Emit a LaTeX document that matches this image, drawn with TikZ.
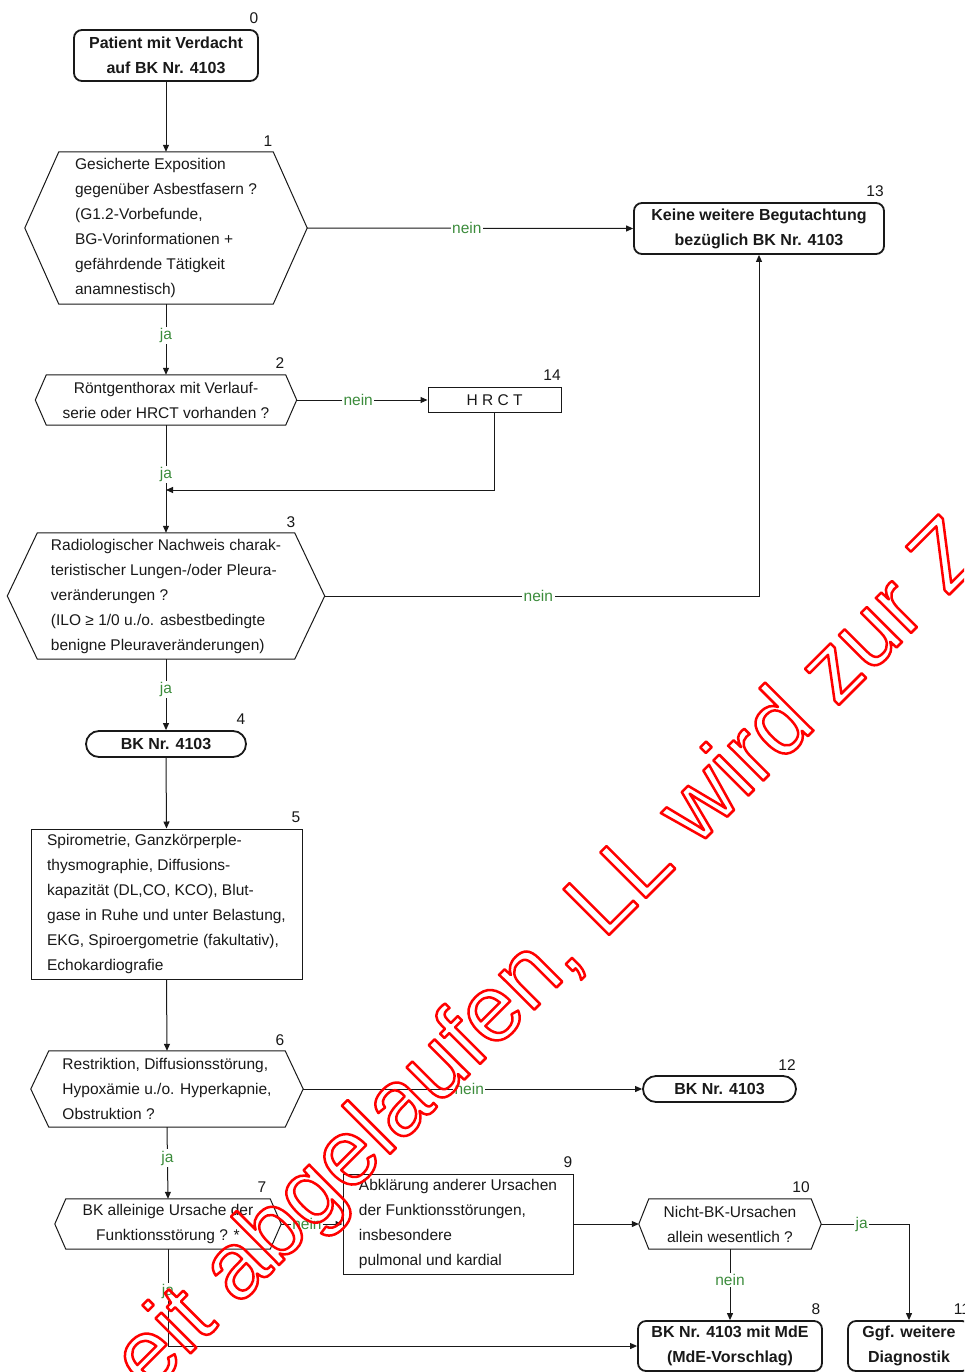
\documentclass[tikz,border=0pt]{standalone}
\usepackage{fontspec}
\setmainfont{Liberation Sans}
\newfontfamily\wmfont{Liberation Sans}
\usetikzlibrary{arrows.meta,calc}
\definecolor{lblgreen}{RGB}{60,140,60}
\definecolor{ink}{RGB}{25,25,25}
\newcommand\hexpath[2]{\draw[hexline] (#1.west) -- ([xshift=#2]#1.north west) -- ([xshift=-#2]#1.north east) -- (#1.east) -- ([xshift=-#2]#1.south east) -- ([xshift=#2]#1.south west) -- cycle;}
\newcommand\wmon{\special{pdf:literal direct 1 Tr 2.5 w 1 j}}
\newcommand\wmoff{\special{pdf:literal direct 0 Tr}}
\begin{document}
\begin{tikzpicture}[x=1pt,y=-1pt,
  txt/.style={font=\fontsize{15.5}{25}\selectfont, text=ink},
  term/.style={draw=ink, line width=1.8pt, rounded corners=8pt, inner sep=0pt, align=center, font=\fontsize{16}{25}\selectfont\bfseries, text=ink},
  procbox/.style={draw=ink, line width=1pt, inner sep=0pt, align=left, txt},
  hexnode/.style={inner sep=0pt, txt},
  hexline/.style={draw=ink, line width=1pt},
  conn/.style={draw=ink, line width=1pt, -{Triangle[length=7pt,width=6pt]}},
  lbl/.style={fill=white, text=lblgreen, inner sep=1.5pt, font=\fontsize{15.5}{18}\selectfont},
  num/.style={font=\fontsize{15.5}{18}\selectfont, text=ink, inner sep=0pt}
]
\useasboundingbox (0,0) rectangle (964,1372);
\fill[white] (0,0) rectangle (964,1372);
\clip (0,0) rectangle (964,1372);

% nodes
\node[term, minimum width=184pt, minimum height=51pt] (n0) at (166,55.5) {Patient mit Verdacht\\auf BK Nr. 4103};
\node[num] (l0) at (254,18) {0};

\node[hexnode, align=left, minimum width=282pt, minimum height=152pt] (n1) at (166,228) {Gesicherte Exposition\\gegenüber Asbestfasern ?\\(G1.2-Vorbefunde,\\BG-Vorinformationen +\\gefährdende Tätigkeit\\anamnestisch)};
\hexpath{n1}{34pt}
\node[num] (l1) at (268,141) {1};

\node[term, minimum width=250pt, minimum height=51pt] (n13) at (759,228.5) {Keine weitere Begutachtung\\bezüglich BK Nr. 4103};
\node[num] (l13) at (875,191) {13};

\node[hexnode, align=center, minimum width=261pt, minimum height=50pt] (n2) at (166,400) {Röntgenthorax mit Verlauf-\\serie oder HRCT vorhanden ?};
\hexpath{n2}{11pt}
\node[num] (l2) at (280,363) {2};

\node[procbox, align=center, minimum width=133pt, minimum height=25pt] (n14) at (494.5,400) {H R C T};
\node[num] (l14) at (552,375) {14};

\node[hexnode, align=left, minimum width=317pt, minimum height=126pt] (n3) at (166,596) {Radiologischer Nachweis charak-\\teristischer Lungen-/oder Pleura-\\veränderungen ?\\(ILO ≥ 1/0 u./o. asbestbedingte\\benigne Pleuraveränderungen)};
\hexpath{n3}{30pt}
\node[num] (l3) at (291,522) {3};

\node[term, rounded corners=13pt, minimum width=160pt, minimum height=26pt] (n4) at (166,744) {BK Nr. 4103};
\node[num] (l4) at (241,719) {4};

\node[procbox, minimum width=271pt, minimum height=150pt] (n5) at (166.5,904) {Spirometrie, Ganzkörperple-\\thysmographie, Diffusions-\\kapazität (DL,CO, KCO), Blut-\\gase in Ruhe und unter Belastung,\\EKG, Spiroergometrie (fakultativ),\\Echokardiografie};
\node[num] (l5) at (296,817) {5};

\node[hexnode, align=left, minimum width=272pt, minimum height=76pt] (n6) at (167,1089) {Restriktion, Diffusionsstörung,\\Hypoxämie u./o. Hyperkapnie,\\Obstruktion ?};
\hexpath{n6}{18pt}
\node[num] (l6) at (280,1040) {6};

\node[term, rounded corners=13pt, minimum width=153pt, minimum height=26pt] (n12) at (719.5,1089) {BK Nr. 4103};
\node[num] (l12) at (787,1065) {12};

\node[hexnode, align=center, minimum width=226pt, minimum height=50pt] (n7) at (168,1224) {BK alleinige Ursache der\\Funktionsstörung ? *};
\hexpath{n7}{11pt}
\node[num] (l7) at (262,1187) {7};

\node[procbox, minimum width=230pt, minimum height=100pt] (n9) at (458,1224) {Abklärung anderer Ursachen\\der Funktionsstörungen,\\insbesondere\\pulmonal und kardial};
\node[num] (l9) at (568,1162) {9};

\node[hexnode, align=center, minimum width=182pt, minimum height=50pt] (n10) at (730,1224) {Nicht-BK-Ursachen\\allein wesentlich ?};
\hexpath{n10}{10pt}
\node[num] (l10) at (801,1187) {10};

\node[term, minimum width=184pt, minimum height=50pt] (n8) at (730,1346) {BK Nr. 4103 mit MdE\\(MdE-Vorschlag)};
\node[num] (l8) at (816,1309) {8};

\node[term, minimum width=122pt, minimum height=50pt] (n11) at (909,1346) {Ggf. weitere\\Diagnostik};
\node[num] (l11) at (962,1309) {11};

% connectors
\coordinate (j23) at (166,490);
\draw[conn] (n0.south) -- (n1.north);
\draw[conn] (n1.east) -- node[lbl,pos=.49]{nein} (n13.west);
\draw[conn] (n1.south) -- node[lbl,pos=.44]{ja} (n2.north);
\draw[conn] (n2.east) -- node[lbl,pos=.47]{nein} (n14.west);
\draw[conn] (n2.south) -- node[lbl,pos=.46]{ja} (n3.north);
\draw[conn] (n14.south) |- (j23);
\draw[conn] (n3.east) -| node[lbl,pos=.246]{nein} (n13.south);
\draw[conn] (n3.south) -- node[lbl,pos=.43]{ja} (n4.north);
\draw[conn] (n4.south) -- (n5.north);
\draw[conn] (n5.south) -- (n6.north);
\draw[conn] (n6.east) -- node[lbl,pos=.49]{nein} (n12.west);
\draw[conn] (n6.south) -- node[lbl,pos=.43]{ja} (n7.north);
\draw[conn] (n7.east) -- node[lbl,pos=.42]{nein} (n9.west);
\draw[conn] (n7.south) |- node[lbl,pos=.22]{ja} (n8.west);
\draw[conn] (n9.east) -- (n10.west);
\draw[conn] (n10.east) -| node[lbl,pos=.23]{ja} (n11.north);
\draw[conn] (n10.south) -- node[lbl,pos=.43]{nein} (n8.north);

% watermark
\node[rotate=45, anchor=base west, inner sep=0pt, text=red, font=\wmfont\fontsize{94}{100}\selectfont] (wm) at (149,1395) {\wmon eit abgelaufen, LL wird zur Z\wmoff};
\end{tikzpicture}
\end{document}
